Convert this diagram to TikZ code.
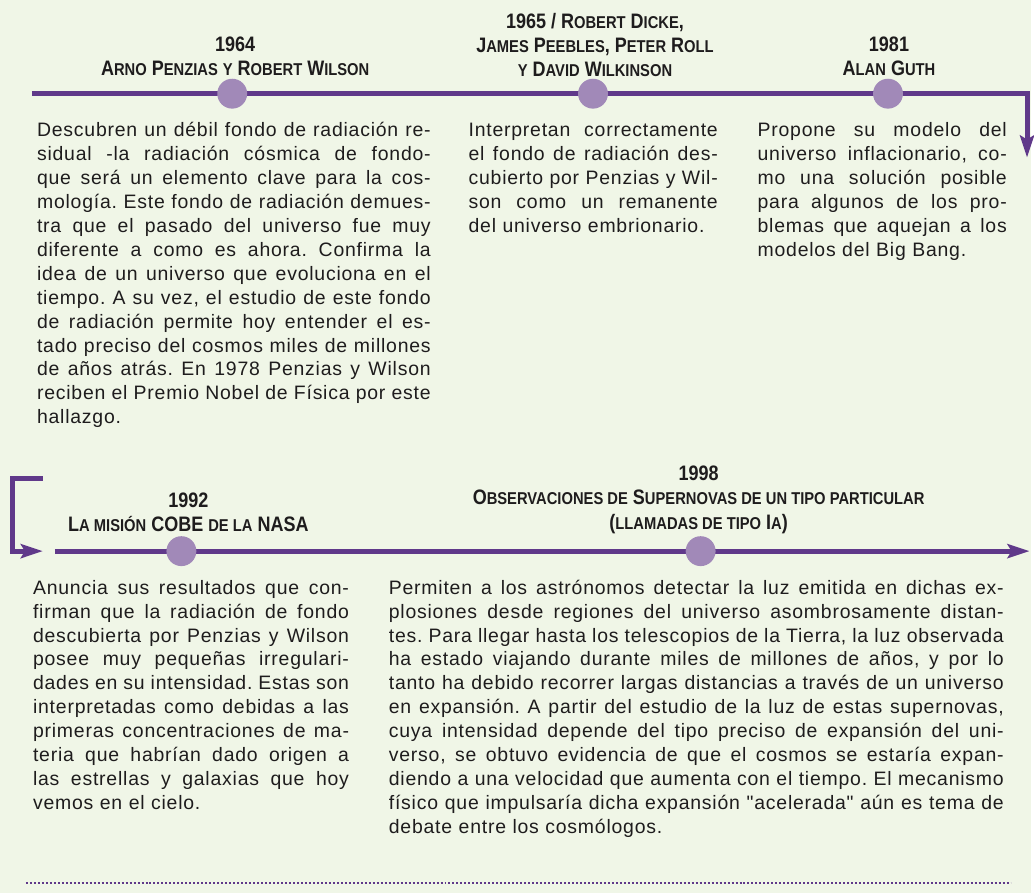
\documentclass[tikz,border=0pt]{standalone}
\usepackage{fontspec}
\usepackage{tikz}
\usetikzlibrary{arrows.meta}
\newfontfamily\bodyfont[LetterSpace=4.0]{Liberation Sans}
\newfontfamily\headfont[FakeStretch=0.86]{Liberation Sans}
\definecolor{lineviolet}{RGB}{96,57,138}
\definecolor{dotviolet}{RGB}{161,137,184}
\definecolor{paper}{RGB}{240,246,231}
\definecolor{ink}{RGB}{30,28,29}
\setlength\parskip{0pt}
\newdimen\colw
\def\jl#1{\noindent\hbox to \colw{\spaceskip=0.25em plus 1fil minus 0.08em\relax #1}\\}
\def\sm#1{{\fontsize{17.2}{24.5}\selectfont #1}}
\tikzset{
	timeline/.style={line width=5pt, color=lineviolet, line join=miter},
	arrowed/.style={-{Stealth[length=22pt, width=14pt, inset=4pt]}},
	event/.style={circle, fill=dotviolet, minimum size=30pt, inner sep=0pt},
	year/.style={align=center, inner sep=0pt, anchor=north, text=ink, font=\headfont\bfseries\fontsize{21}{24.5}\selectfont},
	story/.style={align=left, inner sep=0pt, anchor=north west, text=ink, text width=#1,
		execute at begin node={\colw=#1\relax}, font=\bodyfont\fontsize{19.5}{24}\selectfont\frenchspacing}
}

\begin{document}
\begin{tikzpicture}[x=1pt, y=-1pt]
			%%%%% START %%%%%
			
			\fill[paper] (0, 0) rectangle (1034, 896);
			
			%%% upper row
			\coordinate (top start) at (32, 94);
			\coordinate (top corner) at (1030.5, 94);
			\coordinate (top end) at (1030.5, 158);
			\draw[timeline, arrowed] (top start) -- (top corner) -- (top end);
			
			\node[event] (e1964) at (233, 94) {};
			\node[event] (e1965) at (595, 94) {};
			\node[event] (e1981) at (891, 94) {};
			
			\node[year] (y1964) at (236, 33.85) {\strut 1964\\ A\sm{RNO} P\sm{ENZIAS} \sm{Y} R\sm{OBERT} W\sm{ILSON}};
			\node[year] (y1965) at (597, 10.85) {\strut 1965 / R\sm{OBERT} D\sm{ICKE},\\ J\sm{AMES} P\sm{EEBLES}, P\sm{ETER} R\sm{OLL}\\ \sm{Y} D\sm{AVID} W\sm{ILKINSON}};
			\node[year] (y1981) at (892, 33.85) {\strut 1981\\ A\sm{LAN} G\sm{UTH}};
			
			\node[story=395pt] (t1964) at (37, 120.2) {\strut
				\jl{Descubren un débil fondo de radiación re-}
				\jl{sidual -la radiación cósmica de fondo-}
				\jl{que será un elemento clave para la cos-}
				\jl{mología. Este fondo de radiación demues-}
				\jl{tra que el pasado del universo fue muy}
				\jl{diferente a como es ahora. Confirma la}
				\jl{idea de un universo que evoluciona en el}
				\jl{tiempo. A su vez, el estudio de este fondo}
				\jl{de radiación permite hoy entender el es-}
				\jl{tado preciso del cosmos miles de millones}
				\jl{de años atrás. En 1978 Penzias y Wilson}
				\jl{reciben el Premio Nobel de Física por este}
				\noindent hallazgo.};
			\node[story=250pt] (t1965) at (470, 120.2) {\strut
				\jl{Interpretan correctamente}
				\jl{el fondo de radiación des-}
				\jl{cubierto por Penzias y Wil-}
				\jl{son como un remanente}
				\noindent del universo embrionario.};
			\node[story=250pt] (t1981) at (760, 120.2) {\strut
				\jl{Propone su modelo del}
				\jl{universo inflacionario, co-}
				\jl{mo una solución posible}
				\jl{para algunos de los pro-}
				\jl{blemas que aquejan a los}
				\noindent modelos del Big Bang.};
			
			%%% lower row
			\coordinate (turn start) at (43, 480);
			\coordinate (turn a) at (12.5, 480);
			\coordinate (turn b) at (12.5, 553);
			\coordinate (turn end) at (43, 553);
			\draw[timeline, arrowed] (turn start) -- (turn a) -- (turn b) -- (turn end);
			
			\coordinate (low start) at (55, 553);
			\coordinate (low end) at (1033, 553);
			\draw[timeline, arrowed] (low start) -- (low end);
			
			\node[event] (e1992) at (182, 553) {};
			\node[event] (e1998) at (703, 553) {};
			
			\node[year] (y1992) at (189, 491.85) {\strut 1992\\ L\sm{A MISIÓN} COBE \sm{DE LA} NASA};
			\node[year] (y1998) at (701, 464.85) {\strut 1998\\ O\sm{BSERVACIONES DE} S\sm{UPERNOVAS DE UN TIPO PARTICULAR}\\ (\sm{LLAMADAS DE TIPO} I\sm{A})};
			
			\node[story=317pt] (t1992) at (33, 579.2) {\strut
				\jl{Anuncia sus resultados que con-}
				\jl{firman que la radiación de fondo}
				\jl{descubierta por Penzias y Wilson}
				\jl{posee muy pequeñas irregulari-}
				\jl{dades en su intensidad. Estas son}
				\jl{interpretadas como debidas a las}
				\jl{primeras concentraciones de ma-}
				\jl{teria que habrían dado origen a}
				\jl{las estrellas y galaxias que hoy}
				\noindent vemos en el cielo.};
			\node[story=617pt] (t1998) at (390, 579.2) {\strut
				\jl{Permiten a los astrónomos detectar la luz emitida en dichas ex-}
				\jl{plosiones desde regiones del universo asombrosamente distan-}
				\jl{tes. Para llegar hasta los telescopios de la Tierra, la luz observada}
				\jl{ha estado viajando durante miles de millones de años, y por lo}
				\jl{tanto ha debido recorrer largas distancias a través de un universo}
				\jl{en expansión. A partir del estudio de la luz de estas supernovas,}
				\jl{cuya intensidad depende del tipo preciso de expansión del uni-}
				\jl{verso, se obtuvo evidencia de que el cosmos se estaría expan-}
				\jl{diendo a una velocidad que aumenta con el tiempo. El mecanismo}
				\jl{físico que impulsaría dicha expansión "acelerada" aún es tema de}
				\noindent debate entre los cosmólogos.};
			
			%%% dotted rule
			\coordinate (rule start) at (26, 886);
			\coordinate (rule end) at (1014, 886);
			\draw[color=lineviolet, line width=2.5pt, dash pattern=on 2pt off 2pt] (rule start) -- (rule end);
			
			%%%%% END %%%%%
\end{tikzpicture}
\end{document}
